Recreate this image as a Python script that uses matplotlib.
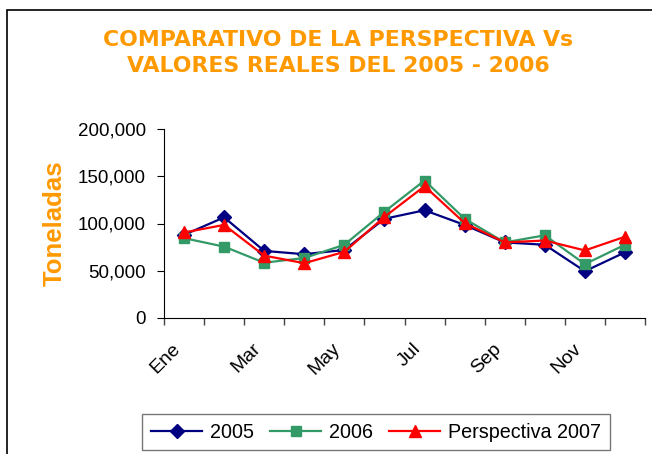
import matplotlib.pyplot as plt
from matplotlib.patches import Rectangle
from matplotlib.ticker import FuncFormatter
from matplotlib.transforms import ScaledTranslation

# Datos
meses = ['Ene', 'Feb', 'Mar', 'Abr', 'May', 'Jun', 'Jul', 'Ago', 'Sep', 'Oct', 'Nov', 'Dic']
v2005 = [88000, 106500, 71000, 67500, 72000, 105000, 114000, 98500, 80000, 77500, 49500, 69500]
v2006 = [84500, 75500, 58500, 63500, 77500, 112500, 145500, 105000, 80000, 87500, 57000, 77500]
persp2007 = [90500, 98500, 66000, 58000, 70000, 107000, 139500, 100500, 80000, 82000, 71500, 86000]

plt.rcParams['font.family'] = ['Liberation Sans', 'DejaVu Sans']

fig = plt.figure(figsize=(6.52, 4.54), dpi=100)
ax = fig.add_axes([164 / 652, 1 - 318 / 454, (645 - 164) / 652, (318 - 129) / 454])

# marco del area del grafico
fig.patches.append(Rectangle((7 / 652, -0.1), 1.2, 1 - 10 / 454 + 0.1, transform=fig.transFigure,
                             fill=False, edgecolor='black', linewidth=1.2))

x = list(range(len(meses)))
ax.plot(x, v2005, color='#000080', marker='D', markersize=7, linewidth=1.6, label='2005')
ax.plot(x, v2006, color='#339966', marker='s', markersize=7.5, linewidth=1.6, label='2006')
ax.plot(x, persp2007, color='#FF0000', marker='^', markersize=9, linewidth=1.6, label='Perspectiva 2007')

ax.set_xlim(-0.5, len(meses) - 0.5)
ax.set_ylim(0, 200000)
ax.set_yticks(range(0, 200001, 50000))
ax.yaxis.set_major_formatter(FuncFormatter(lambda v, p: f'{int(v):,}'))

# ticks en los limites de categoria, etiquetas cada dos meses
ax.set_xticks([i - 0.5 for i in range(len(meses) + 1)])
ax.set_xticklabels([])
ax.set_xticks(x[::2], minor=True)
ax.set_xticklabels(meses[::2], minor=True, rotation=45, ha='right', rotation_mode='anchor', fontsize=14)
ax.tick_params(axis='x', which='minor', length=0, pad=16)
ax.tick_params(axis='x', which='major', length=5, width=1, color='#444444')
ax.tick_params(axis='y', length=5, labelsize=13.5, pad=8)
shift = ScaledTranslation(-9 / 72, 0, fig.dpi_scale_trans)
for lab in ax.get_xticklabels(minor=True):
    lab.set_transform(lab.get_transform() + shift)

for s in ['top', 'right']:
    ax.spines[s].set_visible(False)

ax.set_ylabel('Toneladas', color='#FF9900', fontsize=18.5, fontweight='bold', labelpad=8)
fig.text(338 / 652, 1 - 53 / 454, 'COMPARATIVO DE LA PERSPECTIVA Vs\nVALORES REALES DEL 2005 - 2006',
         ha='center', va='center', color='#FF9900', fontsize=15.8, fontweight='bold',
         family='DejaVu Sans', linespacing=1.32)

ax.legend(loc='center', bbox_to_anchor=(376 / 652, 1 - 432 / 454), bbox_transform=fig.transFigure,
          ncol=3, fontsize=14.2, frameon=True, fancybox=False, edgecolor='#555555',
          handlelength=2.6, columnspacing=0.8, handletextpad=0.4, borderpad=0.45)

plt.savefig('out.png', dpi=100)
